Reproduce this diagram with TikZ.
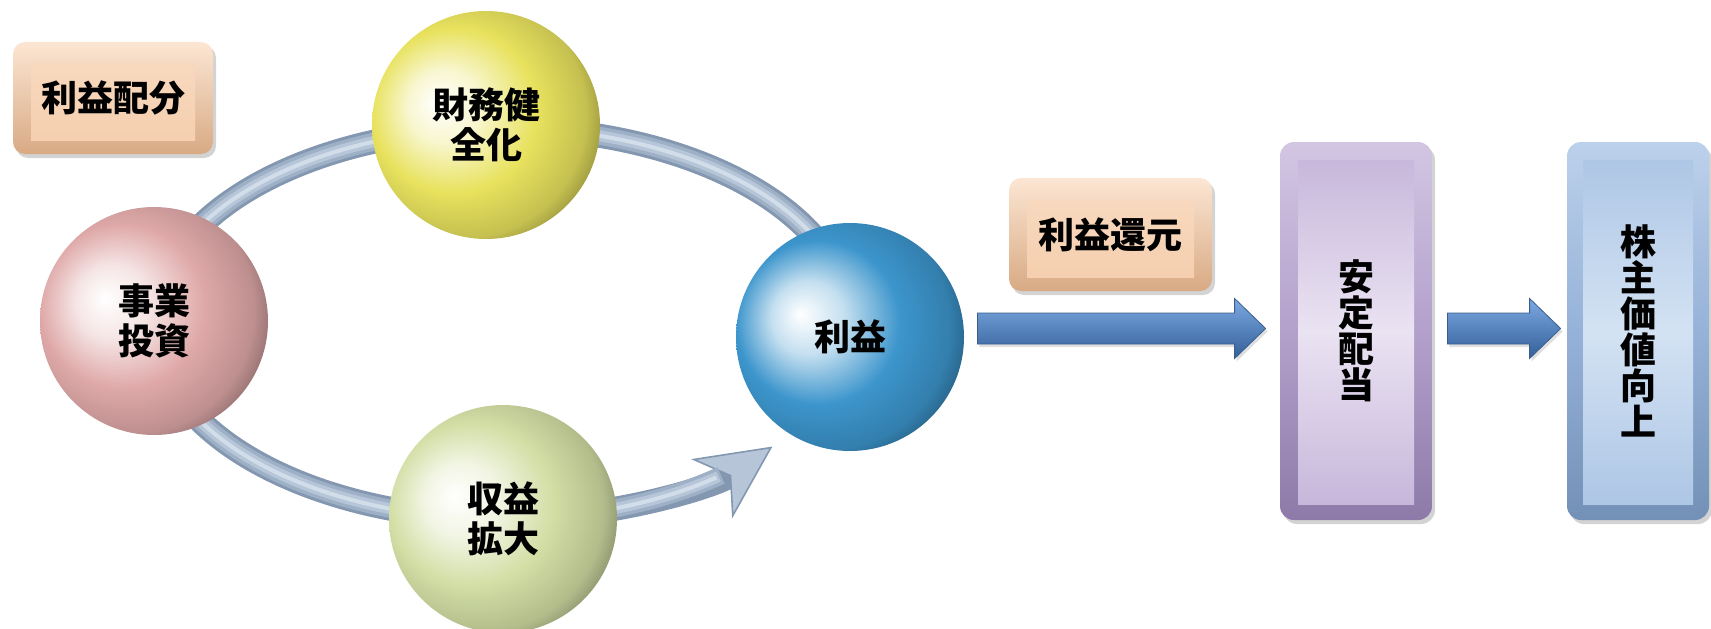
\documentclass[tikz,border=0pt]{standalone}
\usepackage{fontspec}
\newfontfamily\cjk{Noto Sans CJK JP}
\usetikzlibrary{calc,shadows,arrows.meta}
\definecolor{tube1}{HTML}{8497B0}
\definecolor{tube2}{HTML}{9DB0C6}
\definecolor{tube3}{HTML}{B6C6D8}
\definecolor{tube4}{HTML}{D2DDEA}
\definecolor{sY}{HTML}{E8E25E}
\definecolor{sP}{HTML}{DFA8A8}
\definecolor{sG}{HTML}{D2DEA4}
\definecolor{sB}{HTML}{3C95CC}
\definecolor{pkT}{HTML}{FCE6D3}
\definecolor{pkB}{HTML}{D8AA84}
\definecolor{pkF1}{HTML}{F9DBC2}
\definecolor{pkF2}{HTML}{F4CDAC}
\definecolor{puT}{HTML}{D3C6E3}
\definecolor{puM}{HTML}{B3A0CB}
\definecolor{puB}{HTML}{8E7AA8}
\definecolor{puF1}{HTML}{C4B3D9}
\definecolor{puF2}{HTML}{EAE3F2}
\definecolor{blT}{HTML}{BCD1EB}
\definecolor{blM}{HTML}{96B2D8}
\definecolor{blB}{HTML}{7390B6}
\definecolor{blF1}{HTML}{AAC4E4}
\definecolor{blF2}{HTML}{D3E2F3}
\definecolor{arT}{HTML}{7DAAE3}
\definecolor{arM}{HTML}{4F82C4}
\definecolor{arB}{HTML}{335E98}
\definecolor{arD}{HTML}{3A5D8C}
\newcommand\mksph[2]{\pgfdeclareradialshading{#1}{\pgfpoint{-11bp}{5bp}}{color(0bp)=(white); color(8bp)=(#2!30!white); color(18bp)=(#2); color(27bp)=(#2!85!black); color(33bp)=(#2!55!black); color(38bp)=(#2!15!black); color(50bp)=(black)}}
\mksph{sphY}{sY}
\mksph{sphP}{sP}
\mksph{sphG}{sG}
\mksph{sphB}{sB}
\newcommand\bigarrow[2]{%
  \path[bigarr] let \p1=(#1), \p2=(#2) in
    (\x1,{\y1+7.75pt}) -- ({\x2-15.5pt},{\y1+7.75pt}) -- ({\x2-15.5pt},{\y1+15pt})
    -- (\x2,\y1) -- ({\x2-15.5pt},{\y1-15pt}) -- ({\x2-15.5pt},{\y1-7.75pt})
    -- (\x1,{\y1-7.75pt}) -- cycle;}
\begin{document}
\begin{tikzpicture}[x=0.5pt,y=0.5pt,
  jfont/.style={font=\cjk\bfseries\fontsize{18}{20}\selectfont},
  sphere/.style={circle, minimum size=114pt, inner sep=0pt, align=center, shade, jfont},
  ringarc/.style={start angle=8, x radius=174pt, y radius=97.75pt},
  peachbox/.style={rounded corners=6pt, inner sep=0pt, top color=pkT, bottom color=pkB, jfont,
    drop shadow={shadow xshift=1.5pt,shadow yshift=-2pt,opacity=.35},
    path picture={\shade[sharp corners,top color=pkF1, bottom color=pkF2]
      ([xshift=9pt,yshift=-11pt]path picture bounding box.north west) rectangle
      ([xshift=-9pt,yshift=7pt]path picture bounding box.south east);}},
  vbox/.style={rounded corners=7pt, inner sep=0pt, align=center, minimum height=189pt,
    font=\cjk\bfseries\fontsize{18}{18}\selectfont,
    drop shadow={shadow xshift=1.5pt,shadow yshift=-2pt,opacity=.35}},
  bigarr/.style={top color=arT, middle color=arM, bottom color=arB, draw=arD, line width=0.4pt,
    drop shadow={shadow xshift=1pt,shadow yshift=-1.5pt,opacity=.25}}]
\useasboundingbox (0,0) rectangle (1711,628);
% ring
\coordinate (ringc) at (502,304.5);
\coordinate (rings) at ($(ringc)+(8:174pt and 97.75pt)$);
\draw[tube1, line width=12pt, -{Stealth[length=37pt,width=36pt,inset=11pt,line width=0.8pt,fill=tube3]}]
  (rings) arc[ringarc, end angle=321];
\draw[tube2, line width=9pt] (rings) arc[ringarc, end angle=309];
\draw[tube3, line width=5.5pt] (rings) arc[ringarc, end angle=308.5];
\draw[tube4, line width=2pt] (rings) arc[ringarc, end angle=308];
% spheres
\node[sphere, shading=sphY] (zaimu) at (486,503) {財務健\\全化};
\node[sphere, shading=sphP] (jigyo) at (154,307) {事業\\投資};
\node[sphere, shading=sphG] (shueki) at (503,109) {収益\\拡大};
\node[sphere, shading=sphB] (rieki) at (850,291) {利益};
% peach boxes
\node[peachbox, minimum width=100pt, minimum height=56pt] (haibun) at (113,530) {利益配分};
\node[peachbox, minimum width=101.5pt, minimum height=56.5pt] (kangen) at (1110.5,393.5) {利益還元};
% vertical boxes
\node[vbox, minimum width=76pt, top color=puT, bottom color=puB, middle color=puM,
  path picture={\shade[sharp corners,top color=puF1, bottom color=puF1, middle color=puF2]
    ([xshift=9pt,yshift=-9pt]path picture bounding box.north west) rectangle
    ([xshift=-9pt,yshift=8pt]path picture bounding box.south east);}]
  (antei) at (1356,297) {安\\定\\配\\当};
\node[vbox, minimum width=71pt, top color=blT, bottom color=blB, middle color=blM,
  path picture={\shade[sharp corners,top color=blF1, bottom color=blF1, middle color=blF2]
    ([xshift=8pt,yshift=-9pt]path picture bounding box.north west) rectangle
    ([xshift=-8pt,yshift=8pt]path picture bounding box.south east);}]
  (kabu) at (1638,297) {株\\主\\価\\値\\向\\上};
% big arrows
\coordinate (a1s) at ($(rieki.east |- antei.west)+(13,2.5)$);
\coordinate (a1e) at ($(antei.west)+(-14,2.5)$);
\coordinate (a2s) at ($(antei.east)+(15,2.5)$);
\coordinate (a2e) at ($(kabu.west)+(-6,2.5)$);
\bigarrow{a1s}{a1e}
\bigarrow{a2s}{a2e}
\end{tikzpicture}
\end{document}
